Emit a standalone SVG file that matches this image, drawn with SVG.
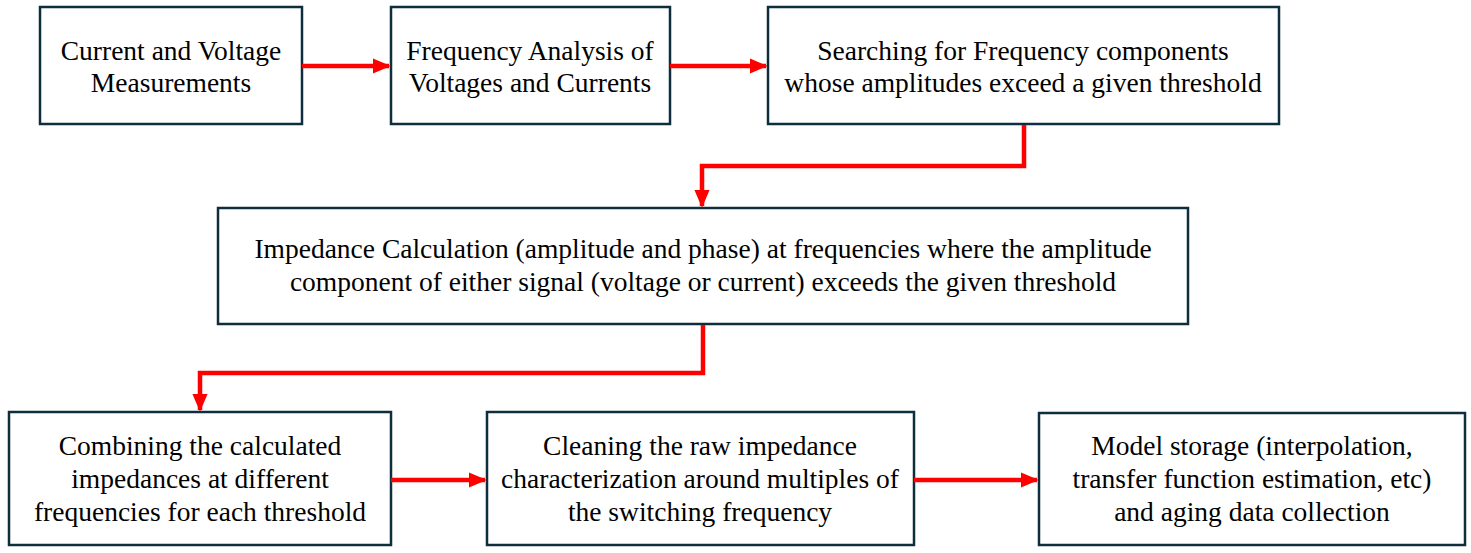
<svg xmlns="http://www.w3.org/2000/svg" width="1471" height="553" viewBox="0 0 1471 553">
<defs>
<style>
.box{fill:#fff;stroke:#0e2d3f;stroke-width:2.5}
.c{fill:none;stroke:#ff0000;stroke-width:4.5}
</style>
<marker id="ah" markerWidth="4" markerHeight="4" refX="3.6" refY="2" orient="auto" markerUnits="strokeWidth" viewBox="0 0 4 4">
<path d="M0,0.3 L4,2 L0,3.7 Z" fill="#ff0000"/>
</marker>
</defs>
<rect width="1471" height="553" fill="#fff"/>
<g font-family="Liberation Serif" font-size="27.5" fill="#000" text-anchor="middle">
<g id="n1"><rect class="box" x="40" y="7" width="262" height="117"/>
<text x="171" y="60">Current and Voltage</text><text x="171" y="92">Measurements</text></g>
<g id="n2"><rect class="box" x="391" y="7" width="279" height="117"/>
<text x="530" y="60">Frequency Analysis of</text><text x="530" y="92">Voltages and Currents</text></g>
<g id="n3"><rect class="box" x="768" y="7" width="511" height="117"/>
<text x="1023" y="60">Searching for Frequency components</text><text x="1023" y="92">whose amplitudes exceed a given threshold</text></g>
<g id="n4"><rect class="box" x="218" y="208" width="970" height="116"/>
<text x="703" y="258">Impedance Calculation (amplitude and phase) at frequencies where the amplitude</text><text x="703" y="291">component of either signal (voltage or current) exceeds the given threshold</text></g>
<g id="n5"><rect class="box" x="9" y="412" width="382" height="133"/>
<text x="200" y="455">Combining the calculated</text><text x="200" y="488">impedances at different</text><text x="200" y="521">frequencies for each threshold</text></g>
<g id="n6"><rect class="box" x="487" y="412" width="427" height="133"/>
<text x="700" y="455">Cleaning the raw impedance</text><text x="700" y="488">characterization around multiples of</text><text x="700" y="521">the switching frequency</text></g>
<g id="n7"><rect class="box" x="1039" y="413" width="426" height="132"/>
<text x="1252" y="455">Model storage (interpolation,</text><text x="1252" y="488">transfer function estimation, etc)</text><text x="1252" y="521">and aging data collection</text></g>
</g>
<g id="connectors">
<path class="c" d="M302,66 H389" marker-end="url(#ah)"/>
<path class="c" d="M670,66 H766" marker-end="url(#ah)"/>
<path class="c" d="M1024,125 V166 H702 V206" marker-end="url(#ah)"/>
<path class="c" d="M703,325 V373 H200 V410" marker-end="url(#ah)"/>
<path class="c" d="M391,480 H485" marker-end="url(#ah)"/>
<path class="c" d="M914,480 H1037" marker-end="url(#ah)"/>
</g>
</svg>
